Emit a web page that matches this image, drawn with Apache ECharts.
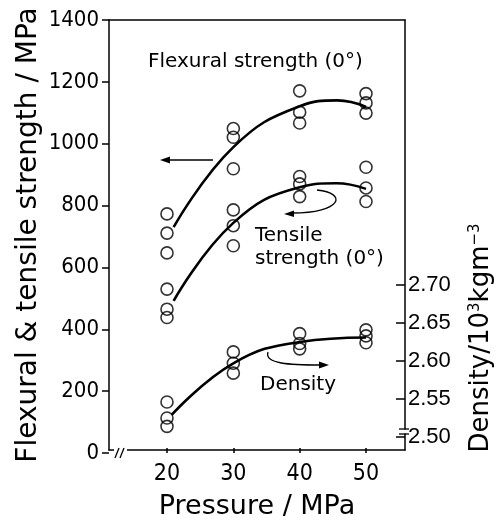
<!DOCTYPE html>
<html><head><meta charset="utf-8">
<script src="https://cdn.jsdelivr.net/npm/echarts@6/dist/echarts.min.js"></script>
<style>html,body{margin:0;padding:0;background:#fff}#c{width:503px;height:525px}</style>
</head><body><div id="c"></div>
<script>
// ---- data ----
const sampleX   = [20,20,20, 30,30,30, 40,40,40, 50,50,50];
const flexural  = [773,711,647, 1049,1021,919, 1171,1102,1067, 1162,1132,1099];
const tensile   = [530,465,438, 786,735,670, 894,870,829, 924,857,813];
const density   = [2.546,2.525,2.514, 2.612,2.597,2.584, 2.636,2.623,2.616, 2.641,2.633,2.624];
const flexFitX  = [21, 30, 40, 45.7, 50];
const flexFitY  = [730, 989, 1121, 1140, 1119];
const tensFitX  = [21, 30, 40, 45.5, 50];
const tensFitY  = [492, 744, 859, 872, 854];
const densFitX  = [20.7, 30, 40, 50];
const densFitY  = [2.529, 2.597, 2.625, 2.631];

const black = '#000';
const cond = '"DejaVu Sans Condensed","Liberation Sans",sans-serif';
const sans = '"DejaVu Sans",sans-serif';
const pts = (xs, ys) => xs.map((x, i) => [x, ys[i]]);
const frameLine = {show:true, onZero:false, lineStyle:{color:black, width:1.5}};
const none = {show:false};

const chart = echarts.init(document.getElementById('c'), null, {renderer:'canvas'});

const scatter = (data, xi, yi) => ({
  type:'scatter', xAxisIndex:xi, yAxisIndex:yi, data, symbol:'circle', symbolSize:12, clip:false,
  itemStyle:{color:'rgba(0,0,0,0)', borderColor:black, borderWidth:1.6}, z:5
});
const fit = (data, xi, yi) => ({
  type:'line', xAxisIndex:xi, yAxisIndex:yi, data, smooth:0.45, showSymbol:false, clip:false,
  lineStyle:{color:black, width:2.6}, z:4
});

chart.setOption({
  animation:false,
  backgroundColor:'#fff',
  grid:[
    {left:109, right:98, top:20, bottom:72},
    {left:167, right:137, top:20, bottom:72},
    {left:167, right:137, top:285, bottom:88}
  ],
  xAxis:[
    {gridIndex:0, type:'value', min:0, max:1, position:'bottom', axisLine:frameLine, axisTick:none, axisLabel:none, splitLine:none,
     name:'Pressure / MPa', nameLocation:'middle', nameGap:43,
     nameTextStyle:{fontFamily:sans, fontSize:27, color:black}},
    {gridIndex:0, type:'value', min:0, max:1, position:'top', axisLine:frameLine, axisTick:none, axisLabel:none, splitLine:none},
    {gridIndex:1, type:'value', min:20, max:50, interval:10, position:'bottom',
     axisLine:{show:false, onZero:false}, axisTick:{show:true, inside:true, length:5, lineStyle:{color:black, width:1.5}},
     axisLabel:{fontFamily:cond, fontSize:23, color:black, margin:10}, splitLine:none},
    {gridIndex:2, type:'value', min:20, max:50, show:false, splitLine:none}
  ],
  yAxis:[
    {gridIndex:0, type:'value', min:0, max:1, position:'left', axisLine:frameLine, axisTick:none, axisLabel:none, splitLine:none,
     name:'Flexural & tensile strength / MPa', nameLocation:'middle', nameGap:66,
     nameTextStyle:{fontFamily:sans, fontSize:28, color:black}},
    {gridIndex:0, type:'value', min:0, max:1, position:'right', axisLine:frameLine, axisTick:none, axisLabel:none, splitLine:none},
    {gridIndex:1, type:'value', min:0, max:1400, interval:200, position:'left', offset:58,
     axisLine:{show:false, onZero:false}, axisTick:{show:true, length:7, lineStyle:{color:black, width:1.5}},
     axisLabel:{fontFamily:cond, fontSize:22, color:black, margin:10, formatter:v => String(v)}, splitLine:none},
    {gridIndex:2, type:'value', min:2.5, max:2.7, interval:0.05, position:'right', offset:39,
     axisLine:{show:false, onZero:false}, axisTick:{show:true, inside:true, length:9, lineStyle:{color:black, width:1.5}},
     axisLabel:{fontFamily:'"Liberation Sans",Arial,sans-serif', fontSize:22, color:black, margin:3,
                formatter:v => v.toFixed(2)}, splitLine:none}
  ],
  series:[
    fit(pts(flexFitX, flexFitY), 2, 2),
    fit(pts(tensFitX, tensFitY), 2, 2),
    fit(pts(densFitX, densFitY), 3, 3),
    scatter(pts(sampleX, flexural), 2, 2),
    scatter(pts(sampleX, tensile), 2, 2),
    scatter(pts(sampleX, density), 3, 3)
  ],
  graphic:[
    {type:'text', x:148, y:62, z:50, style:{text:'Flexural strength (0°)', fontFamily:sans, fontSize:20, fill:black, align:'left', verticalAlign:'middle'}},
    {type:'text', x:255, y:236, z:50, style:{text:'Tensile', fontFamily:sans, fontSize:20, fill:black, align:'left', verticalAlign:'middle'}},
    {type:'text', x:255, y:259, z:50, style:{text:'strength (0°)', fontFamily:sans, fontSize:20, fill:black, align:'left', verticalAlign:'middle'}},
    {type:'text', x:260, y:385, z:50, style:{text:'Density', fontFamily:sans, fontSize:20, fill:black, align:'left', verticalAlign:'middle'}},
    {type:'text', x:481, y:338, rotation:Math.PI/2, z:50,
     style:{text:'Density/10{sup|3}kgm{sup|−3}', fontFamily:sans, fontSize:26, fill:black, align:'center', verticalAlign:'middle',
            rich:{sup:{fontFamily:sans, fontSize:15, fill:black, padding:[0,0,12,0]}}}},
    // arrows
    {type:'line', z:50, shape:{x1:213, y1:160, x2:166, y2:160}, style:{stroke:black, lineWidth:1.4}},
    {type:'polygon', z:50, shape:{points:[[160,160],[170,156.5],[170,163.5]]}, style:{fill:black}},
    {type:'bezierCurve', z:50, shape:{x1:317, y1:190, cpx1:348, cpy1:193, cpx2:342, cpy2:213, x2:292, y2:213}, style:{stroke:black, lineWidth:1.3, fill:null}},
    {type:'polygon', z:50, shape:{points:[[284,214],[294,210.5],[294,217]]}, style:{fill:black}},
    {type:'bezierCurve', z:50, shape:{x1:268, y1:352, cpx1:264, cpy1:364, cpx2:290, cpy2:365, x2:321, y2:365}, style:{stroke:black, lineWidth:1.3, fill:null}},
    {type:'polygon', z:50, shape:{points:[[329,365],[319,361.5],[319,368.5]]}, style:{fill:black}},
    // axis breaks
    {type:'rect', z:60, shape:{x:114, y:449, width:13, height:8}, style:{fill:'#fff'}},
    {type:'line', z:61, shape:{x1:115, y1:458, x2:119, y2:448}, style:{stroke:black, lineWidth:1.3}},
    {type:'line', z:61, shape:{x1:120, y1:458, x2:124, y2:448}, style:{stroke:black, lineWidth:1.3}},
    {type:'rect', z:60, shape:{x:402, y:429.5, width:6, height:4}, style:{fill:'#fff'}},
    {type:'line', z:61, shape:{x1:399, y1:429, x2:409, y2:429}, style:{stroke:black, lineWidth:1.3}},
    {type:'line', z:61, shape:{x1:399, y1:434, x2:409, y2:434}, style:{stroke:black, lineWidth:1.3}}
  ]
});
</script>
</body></html>
